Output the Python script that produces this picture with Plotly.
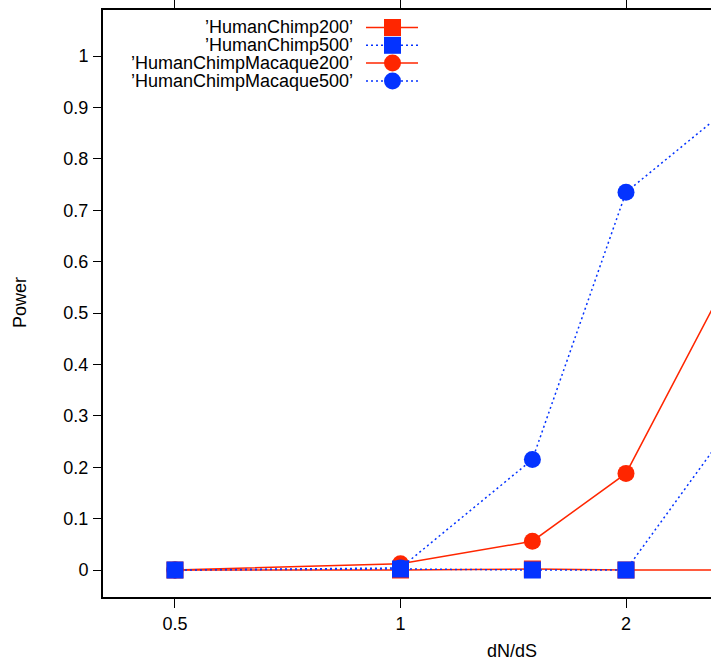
import plotly.graph_objects as go

# ---- data ----
dnds = [0.5, 1, 1.5, 2, 3]
hc200 = [0.0, 0.0, 0.002, 0.0, 0.0]
hc500 = [0.0, 0.002, 0.0, 0.0, 0.353]
hcm200 = [0.0, 0.012, 0.056, 0.188, 0.677]
hcm500 = [0.0, 0.004, 0.215, 0.735, 0.945]
series_names = ["’HumanChimp200’", "’HumanChimp500’",
                "’HumanChimpMacaque200’", "’HumanChimpMacaque500’"]
ytick_vals = [0, 0.1, 0.2, 0.3, 0.4, 0.5, 0.6, 0.7, 0.8, 0.9, 1]
ytick_text = ["0", "0.1", "0.2", "0.3", "0.4", "0.5", "0.6", "0.7", "0.8", "0.9", "1"]
xtick_vals = [0.5, 1, 2, 4]
xtick_text = ["0.5", "1", "2", "4"]

RED = "#FF2600"
BLUE = "#0433FF"
FONT = "Liberation Sans, Arial, Helvetica, sans-serif"

W, H = 711, 664
L, R, T, B = 103, 0, 10, 67
PW, PH = W - L - R, H - T - B

def px(xp):
    return (xp - L) / PW

def py(yp):
    return (H - B - yp) / PH

styles = [
    dict(y=hc200, color=RED, dash="solid", symbol="square", size=17),
    dict(y=hc500, color=BLUE, dash="2px,3px", symbol="square", size=17),
    dict(y=hcm200, color=RED, dash="solid", symbol="circle", size=17),
    dict(y=hcm500, color=BLUE, dash="2px,3px", symbol="circle", size=17),
]

fig = go.Figure()
# drawing order: circles first, squares on top
for i in [2, 3, 0, 1]:
    s = styles[i]
    fig.add_trace(go.Scatter(
        x=dnds, y=s["y"], mode="lines+markers", name=series_names[i],
        line=dict(color=s["color"], width=1.5, dash=s["dash"]),
        marker=dict(symbol=s["symbol"], size=s["size"], color=s["color"], line=dict(width=0)),
        showlegend=False,
    ))

# manual legend (text on the left, sample on the right)
shapes = []
annotations = []
row_y = [27.5, 45.3, 63.1, 80.9]
for i, s in enumerate(styles):
    yy = py(row_y[i])
    annotations.append(dict(
        x=px(355), y=yy, xref="paper", yref="paper", text=series_names[i],
        showarrow=False, xanchor="right", yanchor="middle",
        font=dict(family=FONT, size=18, color="black"),
    ))
    shapes.append(dict(
        type="line", xref="paper", yref="paper", x0=px(366), x1=px(418), y0=yy, y1=yy,
        line=dict(color=s["color"], width=1.5, dash=s["dash"]),
    ))
    half = 8.5
    shapes.append(dict(
        type="rect" if s["symbol"] == "square" else "circle",
        xref="paper", yref="paper", x0=px(392.5 - half), x1=px(392.5 + half),
        y0=py(row_y[i] + half), y1=py(row_y[i] - half),
        fillcolor=s["color"], line=dict(width=0),
    ))

# x axis title positioned like the original (plot extended past the crop)
annotations.append(dict(
    x=px(512), y=py(651), xref="paper", yref="paper", text="dN/dS",
    showarrow=False, xanchor="center", yanchor="middle",
    font=dict(family=FONT, size=18, color="black"),
))
# y axis title
annotations.append(dict(
    x=px(20), y=py(303), xref="paper", yref="paper", text="Power", textangle=-90,
    showarrow=False, xanchor="center", yanchor="middle",
    font=dict(family=FONT, size=18, color="black"),
))

fig.update_layout(
    width=W, height=H,
    margin=dict(l=L, r=R, t=T, b=B, pad=0),
    paper_bgcolor="white", plot_bgcolor="white",
    font=dict(family=FONT, size=18, color="black"),
    shapes=shapes, annotations=annotations,
    showlegend=False,
)
fig.update_xaxes(
    type="log", range=[-0.3971, 0.4145],
    tickvals=xtick_vals, ticktext=xtick_text,
    ticks="outside", ticklen=9, tickwidth=1, tickcolor="black",
    showline=True, linecolor="black", linewidth=2, mirror="ticks",
    showgrid=False, zeroline=False,
    tickfont=dict(family=FONT, size=18, color="black"),
)
fig.update_yaxes(
    range=[-0.0525, 1.0895],
    tickvals=ytick_vals, ticktext=ytick_text,
    ticks="outside", ticklen=8, tickwidth=1, tickcolor="black",
    showline=True, linecolor="black", linewidth=2, mirror=False,
    showgrid=False, zeroline=False,
    ticklabelstandoff=1,
    tickfont=dict(family=FONT, size=18, color="black"),
)

fig.write_html(
    "out.html",
    config={"displayModeBar": False},
    post_script="document.body.style.margin='0';document.body.style.overflow='hidden';",
)
